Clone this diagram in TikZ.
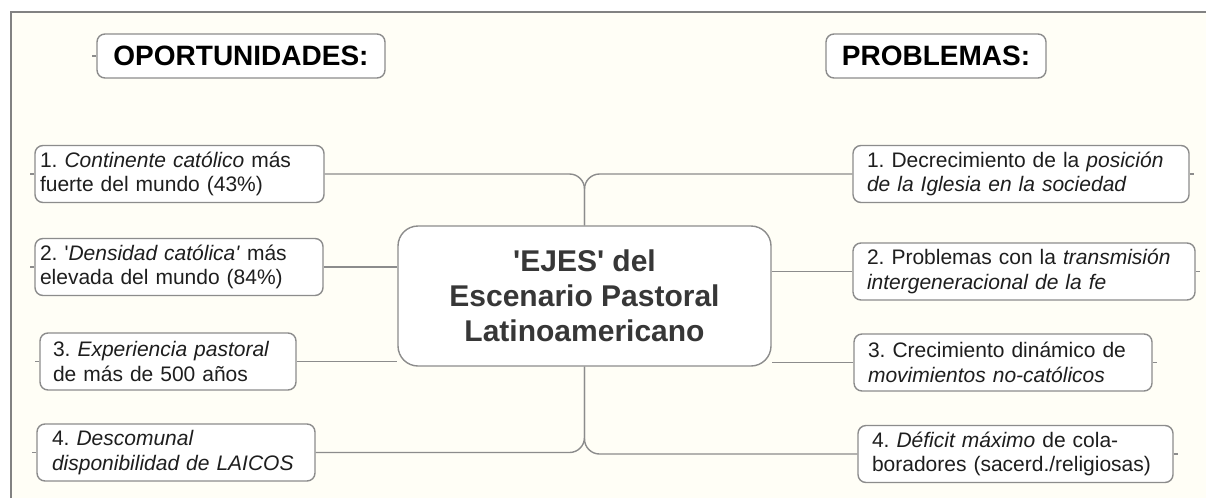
\documentclass[tikz,border=0pt]{standalone}
\usepackage{fontspec}
\setmainfont{Liberation Sans}[Ligatures=TeXOff]
\frenchspacing
\pgfdeclarelayer{bg}
\pgfdeclarelayer{edges}
\pgfsetlayers{bg,edges,main}
\definecolor{cream}{RGB}{255,254,246}
\definecolor{linegray}{RGB}{140,140,140}
\definecolor{framegray}{RGB}{130,130,130}
\definecolor{txt}{RGB}{30,30,30}
\definecolor{ctxt}{RGB}{55,55,55}
\tikzset{
  itembox/.style={draw=linegray, line width=1.4pt, fill=white, rounded corners=8pt,
    minimum height=57pt, inner ysep=0pt, align=left, text=txt,
    font=\fontsize{21}{24.5}\selectfont},
  headbox/.style={draw=linegray, line width=1.4pt, fill=white, rounded corners=8pt,
    minimum height=44pt, inner sep=0pt, text=black,
    font=\fontsize{28}{32}\selectfont\bfseries},
  centerbox/.style={draw=linegray, line width=1.4pt, fill=white, rounded corners=20pt,
    minimum width=373pt, minimum height=140pt, inner sep=0pt, align=center, text=ctxt,
    font=\fontsize{30}{35}\selectfont\bfseries},
  conn/.style={draw=linegray, line width=1.4pt},
  stub/.style={draw=linegray, line width=1.2pt}
}
\newcommand{\itemnode}[6]{% name, x, y, width, inset, text
  \node[itembox, inner xsep=#5pt, text width=#4pt-2*#5pt] (#1) at (#2,#3) {#6};}
\begin{document}
\begin{tikzpicture}[x=1pt,y=-1pt]
\useasboundingbox (0,0) rectangle (1206,498);
\begin{pgfonlayer}{bg}
  \fill[white] (0,0) rectangle (1206,498);
  \fill[cream] (11,12) rectangle (1206,498);
  \draw[framegray, line width=1.8pt] (11,498) -- (11,12) -- (1206,12);
\end{pgfonlayer}

% headers
\node[headbox, minimum width=288pt] (hO) at (241,56) {OPORTUNIDADES:};
\node[headbox, minimum width=220pt] (hP) at (936,56) {PROBLEMAS:};

% center
\node[centerbox] (C) at (584.5,296) {'EJES' del\\Escenario Pastoral\\Latinoamericano};

% left items
\itemnode{L1}{179.5}{174}{289}{5}{1. \textit{Continente católico} más\\fuerte del mundo (43\%)}
\itemnode{L2}{179}{267}{288}{5}{2. '\textit{Densidad católica'} más\\elevada del mundo (84\%)}
\itemnode{L3}{168}{361.5}{256}{13}{3. \textit{Experiencia pastoral}\\de más de 500 años}
\itemnode{L4}{176}{452.5}{278}{15}{4. \textit{Descomunal}\\\textit{disponibilidad de LAICOS}}

% right items
\itemnode{R1}{1021}{174}{336}{14}{1. Decrecimiento de la \textit{posición}\\\textit{de la Iglesia en la sociedad}}
\itemnode{R2}{1024}{271.5}{342}{14}{2. Problemas con la \textit{transmisión}\\\textit{intergeneracional de la fe}}
\itemnode{R3}{1003}{362.5}{298}{14}{3. Crecimiento dinámico de\\\textit{movimientos no-católicos}}
\itemnode{R4}{1015.5}{454}{315}{14}{4. \textit{Déficit máximo} de cola-\\boradores (sacerd./religiosas)}

% connectors
\begin{pgfonlayer}{edges}
  \draw[conn, rounded corners=15pt] (L1.east) -| (C.north);
  \draw[conn, rounded corners=15pt] (R1.west) -| (C.north);
  \draw[conn] (L2.east) -- (L2.east -| C.west);
  \draw[conn] (L3.east) -- (L3.east -| C.west);
  \draw[conn] (R2.west) -- (R2.west -| C.east);
  \draw[conn] (R3.west) -- (R3.west -| C.east);
  \draw[conn, rounded corners=15pt] (L4.east) -| (C.south);
  \draw[conn, rounded corners=15pt] (R4.west) -| (C.south);
  % small stubs on outer sides
  \foreach \n in {L1,L2,L3,L4,hO} {
    \coordinate (\n-stub) at ([xshift=-4pt]\n.west);
    \draw[stub] (\n.west) -- (\n-stub);
  }
  \foreach \n in {R1,R2,R3,R4} {
    \coordinate (\n-stub) at ([xshift=4pt]\n.east);
    \draw[stub] (\n.east) -- (\n-stub);
  }
\end{pgfonlayer}
\end{tikzpicture}
\end{document}
